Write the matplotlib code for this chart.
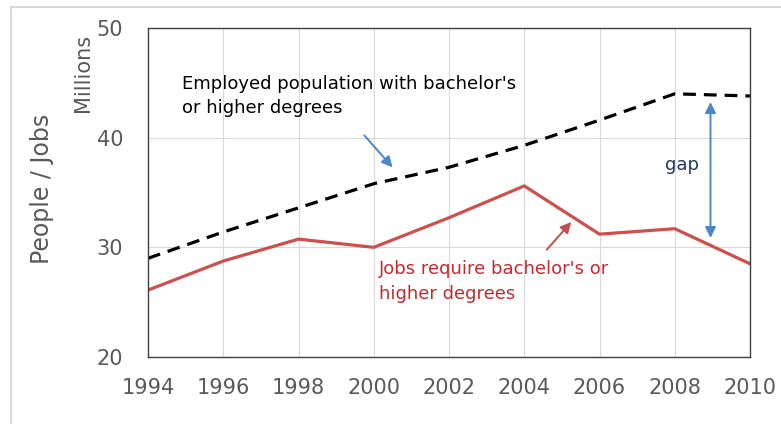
import matplotlib.pyplot as plt

years = [1994, 1996, 1998, 2000, 2002, 2004, 2006, 2008, 2010]
employed = [29.0, 31.4, 33.6, 35.8, 37.3, 39.3, 41.6, 44.0, 43.8]
jobs = [26.1, 28.75, 30.75, 30.0, 32.7, 35.6, 31.2, 31.7, 28.5]

gray = "#595959"

fig = plt.figure(figsize=(7.81, 4.24), dpi=100)
ax = fig.add_axes([148 / 781, 1 - 357 / 424, 602 / 781, 329 / 424])

ax.plot(years, employed, color="black", linestyle=(0, (4, 2.5)), linewidth=2.3)
ax.plot(years, jobs, color="#cd504d", linewidth=2.3)

ax.set_xlim(1994, 2010)
ax.set_ylim(20, 50)
ax.set_xticks(years)
ax.set_yticks([20, 30, 40, 50])
ax.grid(True, color="#d9d9d9", linewidth=0.8)
ax.set_axisbelow(True)
ax.tick_params(length=0, labelsize=15, labelcolor=gray)
ax.tick_params(axis="x", pad=15)
ax.tick_params(axis="y", pad=18)
for s in ax.spines.values():
    s.set_color("#404040")
    s.set_linewidth(1)

fig.text(42 / 781, 1 - 189 / 424, "People / Jobs", rotation=90, fontsize=17,
         color=gray, ha="center", va="center")
fig.text(83 / 781, 1 - 73 / 424, "Millions", rotation=90, fontsize=15,
         color=gray, ha="center", va="center")

ax.text(1994.9, 45.7, "Employed population with bachelor's\nor higher degrees",
        fontsize=13, color="black", va="top", ha="left", linespacing=1.45)
ax.text(2000.15, 28.8, "Jobs require bachelor's or\nhigher degrees",
        fontsize=13, color="#c8282d", va="top", ha="left", linespacing=1.45)
ax.text(2008.2, 37.5, "gap", fontsize=13, color="#1f3864", ha="center", va="center")

blue = "#4a86c8"
ax.annotate("", xy=(2000.55, 37.1), xytext=(1999.7, 40.4),
            arrowprops=dict(arrowstyle="-|>", color=blue, lw=1.4, mutation_scale=16))
ax.annotate("", xy=(2005.3, 32.5), xytext=(2004.55, 29.6),
            arrowprops=dict(arrowstyle="-|>", color="#c0504d", lw=1.4, mutation_scale=16))
ax.annotate("", xy=(2008.95, 43.5), xytext=(2008.95, 30.6),
            arrowprops=dict(arrowstyle="<|-|>", color=blue, lw=1.4, mutation_scale=16))

# light frame around the chart area
fig.add_artist(plt.Line2D([11 / 781, 1], [1 - 7 / 424, 1 - 7 / 424], color="#d9d9d9", lw=1.5))
fig.add_artist(plt.Line2D([11 / 781, 11 / 781], [0, 1 - 7 / 424], color="#d9d9d9", lw=1.5))

fig.savefig("out.png", dpi=100)
